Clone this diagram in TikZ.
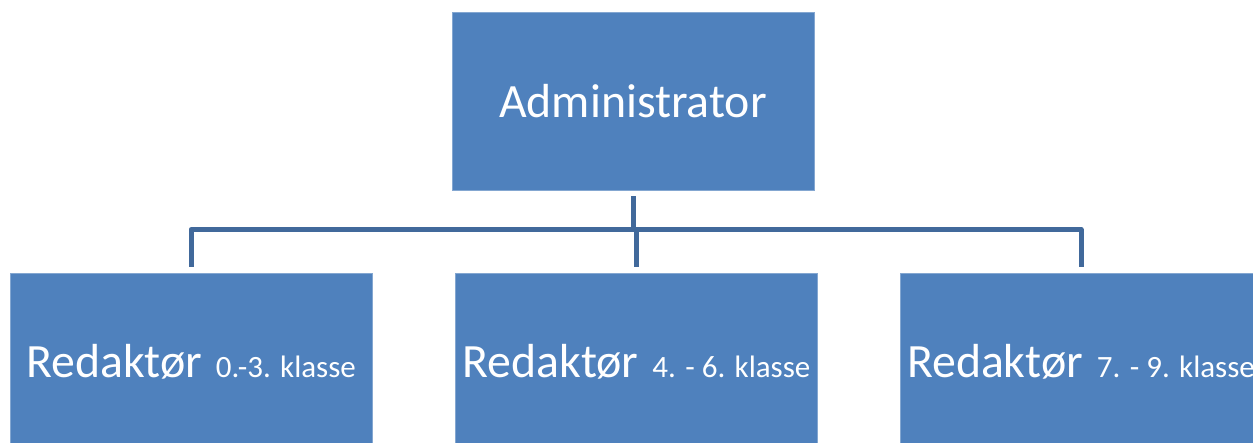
\documentclass[tikz,border=0pt]{standalone}
\usepackage{fontspec}
\setmainfont{Carlito}
\definecolor{boxblue}{HTML}{4F81BD}
\definecolor{lineblue}{HTML}{41699B}
\tikzset{
  orgbox/.style={fill=boxblue, draw=boxblue!70!white, line width=0.8pt, minimum width=362pt, minimum height=178pt, inner sep=0pt, text=white, font=\fontsize{47.8}{57}\selectfont},
  conn/.style={draw=lineblue, line width=5pt, line join=round}
}
\newcommand{\klasse}[1]{{\fontsize{31}{38}\selectfont #1}}
\begin{document}
\begin{tikzpicture}[x=1pt,y=-1pt]
\useasboundingbox (0,0) rectangle (1253,442);
\clip (0,0) rectangle (1253,442);
\fill[white] (0,0) rectangle (1253,442);
\node[orgbox] (adm) at (633,101) {Administrator};
\node[orgbox] (r1) at (191,362) {Redaktør\hspace{14pt}\klasse{0.-3. klasse}};
\node[orgbox] (r2) at (636.5,362) {Redaktør\hspace{14pt}\klasse{4. - 6. klasse}};
\node[orgbox] (r3) at (1081,362) {Redaktør\hspace{14pt}\klasse{7. - 9. klasse}};
\coordinate (bus) at (633,229.5);
\draw[conn] ([yshift=-6pt]adm.south) -- (bus);
\draw[conn] ([yshift=6pt]r1.north) -- (r1.north |- bus) -- (r3.north |- bus) -- ([yshift=6pt]r3.north);
\draw[conn] (r2.north |- bus) -- ([yshift=6pt]r2.north);
\end{tikzpicture}
\end{document}
